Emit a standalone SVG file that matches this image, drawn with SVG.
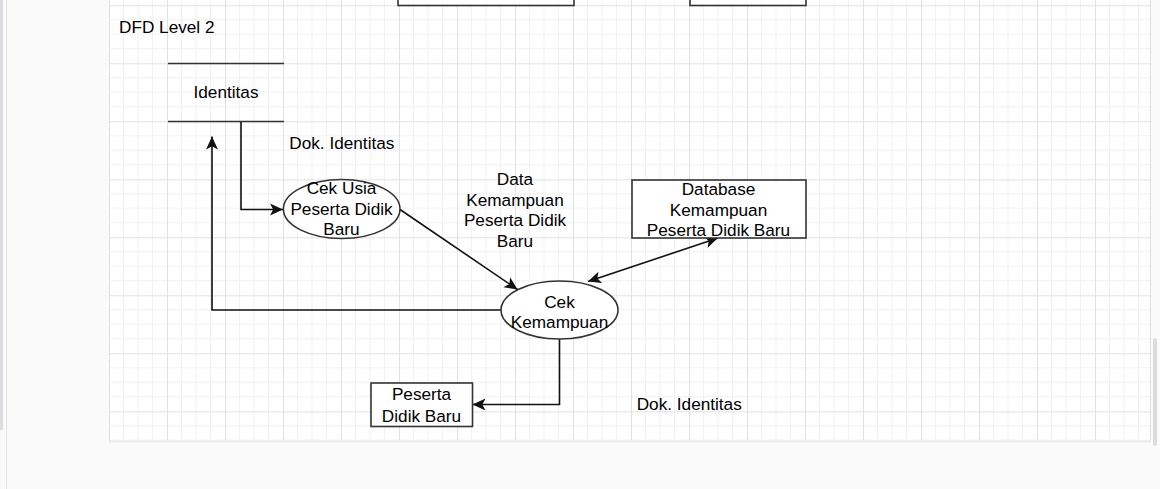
<svg xmlns="http://www.w3.org/2000/svg" width="1160" height="489" viewBox="0 0 1160 489">
<defs>
<pattern id="grid" patternUnits="userSpaceOnUse" x="109" y="5.3" width="58" height="58">
<path d="M14.5,0V58M29,0V58M43.5,0V58M0,14.5H58M0,29H58M0,43.5H58" stroke="#f1f1f1" stroke-width="1" fill="none"/>
<path d="M0.5,0V58M0,0.5H58" stroke="#e2e2e2" stroke-width="1" fill="none"/>
</pattern>
<marker id="arr" markerUnits="userSpaceOnUse" markerWidth="16" markerHeight="16" viewBox="0 -8 16 16" refX="13" refY="0" orient="auto-start-reverse">
<path d="M0,-6 L13,0 L0,6 L3.2,0 Z" fill="#111"/>
</marker>
<style>
text{font-family:"Liberation Sans",Arial,sans-serif;font-size:17.2px;fill:#000}
.c{text-anchor:middle}
.box{fill:#fff;stroke:#333;stroke-width:1.6}
.edge{fill:none;stroke:#111;stroke-width:1.6}
</style>
</defs>
<rect x="0" y="0" width="1160" height="489" fill="#fafafa"/>
<rect x="0" y="0" width="3" height="430" fill="#dcdde0"/>
<line x1="6.5" y1="0" x2="6.5" y2="489" stroke="#e3e3e3" stroke-width="1"/>
<rect x="109.5" y="-2" width="1041" height="443" fill="#fff" stroke="#e0e0e0" stroke-width="1"/>
<rect x="110" y="0" width="1040" height="440.5" fill="url(#grid)"/>
<line x1="109" y1="442" x2="1151" y2="442" stroke="#ececec" stroke-width="1"/>
<rect x="1153" y="338" width="4" height="108" rx="2" fill="#dcdcdc"/>

<g id="top-box-1"><rect class="box" x="398" y="-20" width="176" height="25.5"/></g>
<g id="top-box-2"><rect class="box" x="690" y="-20" width="116" height="25.5"/></g>

<g id="title"><text x="119" y="33.3">DFD Level 2</text></g>

<g id="identitas">
<line x1="168" y1="63.5" x2="284" y2="63.5" stroke="#333" stroke-width="1.6"/>
<line x1="168" y1="121.5" x2="284" y2="121.5" stroke="#333" stroke-width="1.6"/>
<text class="c" x="226" y="97.7">Identitas</text>
</g>

<g id="connectors">
<path class="edge" d="M241,122 V209.5 H283" marker-end="url(#arr)"/>
<path class="edge" d="M501,310 H212 V136.5" marker-end="url(#arr)"/>
<path class="edge" d="M400,209.5 L517.5,289.5" marker-end="url(#arr)"/>
<path class="edge" d="M588,281.5 L718,238" marker-start="url(#arr)" marker-end="url(#arr)"/>
<path class="edge" d="M559.5,339 V404.5 H472.5" marker-end="url(#arr)"/>
</g>

<g id="cek-usia">
<ellipse class="box" cx="341.7" cy="209" rx="58.3" ry="29.5"/>
<text class="c" x="341.5" y="194">Cek Usia</text>
<text class="c" x="341.5" y="214.5">Peserta Didik</text>
<text class="c" x="341.5" y="235">Baru</text>
</g>

<g id="cek-kemampuan">
<ellipse class="box" cx="559.5" cy="310" rx="58.5" ry="29"/>
<text class="c" x="559.5" y="307.5">Cek</text>
<text class="c" x="559.5" y="328">Kemampuan</text>
</g>

<g id="database">
<rect class="box" x="632" y="180" width="174" height="58"/>
<text class="c" x="718.5" y="195">Database</text>
<text class="c" x="718.5" y="215.5">Kemampuan</text>
<text class="c" x="718.5" y="236">Peserta Didik Baru</text>
</g>

<g id="peserta-didik-baru">
<rect class="box" x="371" y="383" width="101.5" height="43.5"/>
<text class="c" x="421.5" y="400">Peserta</text>
<text class="c" x="421.5" y="421.5">Didik Baru</text>
</g>

<g id="label-dok-1"><text x="289.3" y="149">Dok. Identitas</text></g>
<g id="label-data">
<text class="c" x="515" y="185">Data</text>
<text class="c" x="515" y="205.5">Kemampuan</text>
<text class="c" x="515" y="226">Peserta Didik</text>
<text class="c" x="515" y="246.5">Baru</text>
</g>
<g id="label-dok-2"><text x="636.7" y="410">Dok. Identitas</text></g>
</svg>
